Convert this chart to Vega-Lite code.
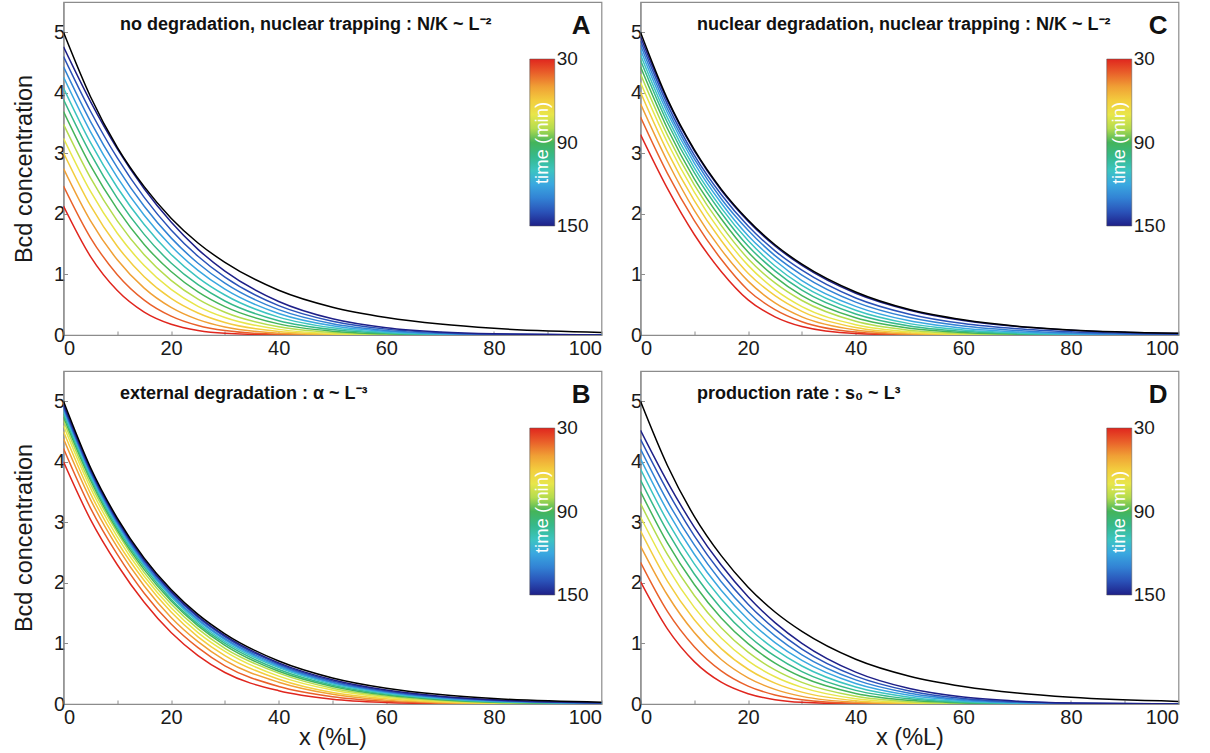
{
"$schema": "https://vega.github.io/schema/vega-lite/v6.json",
"padding": {"left": 11.5, "top": 1, "right": 5, "bottom": 0},
"background": "white",
"config": {
 "font": "Liberation Sans",
 "view": {"stroke": "#8c8c8c", "strokeWidth": 1.2},
 "axis": {"grid": false, "domainColor": "#8c8c8c", "domainWidth": 1.2, "tickColor": "#8c8c8c", "tickSize": -4, "labelFont": "Liberation Sans", "labelFontSize": 20, "labelColor": "#1a1a1a", "titleFont": "Liberation Sans", "titleFontSize": 23.5, "titleFontWeight": "normal", "titleColor": "#1a1a1a", "labelOverlap": false},
 "axisX": {"labelPadding": 7, "titlePadding": -2},
 "axisY": {"labelPadding": 3, "titlePadding": 17},
 "line": {"strokeWidth": 1.5, "interpolate": "monotone"},
 "legend": {"orient": "none", "legendX": 469, "legendY": 57, "direction": "vertical", "gradientLength": 167, "gradientThickness": 25, "titleOrient": "left", "titleColor": "white", "titleFontSize": 18.5, "titleFontWeight": "normal", "titleAnchor": "middle", "titlePadding": -21.75, "labelFontSize": 19, "labelOffset": 3, "labelColor": "#1a1a1a", "gradientStrokeColor": "#555555", "gradientStrokeWidth": 0.5, "padding": 0}
},
"datasets": {
"A": [
{"t":30,"x":0,"y":2.13},{"t":30,"x":5,"y":1.30},{"t":30,"x":10,"y":0.735},{"t":30,"x":15,"y":0.379},{"t":30,"x":20,"y":0.178},{"t":30,"x":25,"y":0.076},{"t":30,"x":30,"y":0.029},{"t":30,"x":40,"y":0.003},{"t":30,"x":50,"y":0},{"t":30,"x":60,"y":0},{"t":30,"x":70,"y":0},{"t":30,"x":80,"y":0},{"t":30,"x":100,"y":0},
{"t":40,"x":0,"y":2.46},{"t":40,"x":5,"y":1.61},{"t":40,"x":10,"y":0.997},{"t":40,"x":15,"y":0.577},{"t":40,"x":20,"y":0.312},{"t":40,"x":25,"y":0.157},{"t":40,"x":30,"y":0.073},{"t":40,"x":40,"y":0.012},{"t":40,"x":50,"y":0.0015},{"t":40,"x":60,"y":0},{"t":40,"x":70,"y":0},{"t":40,"x":80,"y":0},{"t":40,"x":100,"y":0},
{"t":50,"x":0,"y":2.75},{"t":50,"x":5,"y":1.89},{"t":50,"x":10,"y":1.242},{"t":50,"x":15,"y":0.774},{"t":50,"x":20,"y":0.456},{"t":50,"x":25,"y":0.254},{"t":50,"x":30,"y":0.133},{"t":50,"x":40,"y":0.030},{"t":50,"x":50,"y":0.005},{"t":50,"x":60,"y":0.0007},{"t":50,"x":70,"y":0},{"t":50,"x":80,"y":0},{"t":50,"x":100,"y":0},
{"t":60,"x":0,"y":3.01},{"t":60,"x":5,"y":2.14},{"t":60,"x":10,"y":1.466},{"t":60,"x":15,"y":0.962},{"t":60,"x":20,"y":0.604},{"t":60,"x":25,"y":0.363},{"t":60,"x":30,"y":0.206},{"t":60,"x":40,"y":0.057},{"t":60,"x":50,"y":0.013},{"t":60,"x":60,"y":0.002},{"t":60,"x":70,"y":0.0003},{"t":60,"x":80,"y":0},{"t":60,"x":100,"y":0},
{"t":70,"x":0,"y":3.25},{"t":70,"x":5,"y":2.375},{"t":70,"x":10,"y":1.68},{"t":70,"x":15,"y":1.147},{"t":70,"x":20,"y":0.752},{"t":70,"x":25,"y":0.474},{"t":70,"x":30,"y":0.289},{"t":70,"x":40,"y":0.093},{"t":70,"x":50,"y":0.025},{"t":70,"x":60,"y":0.0055},{"t":70,"x":70,"y":0.001},{"t":70,"x":80,"y":0.0002},{"t":70,"x":100,"y":0},
{"t":80,"x":0,"y":3.48},{"t":80,"x":5,"y":2.60},{"t":80,"x":10,"y":1.886},{"t":80,"x":15,"y":1.325},{"t":80,"x":20,"y":0.902},{"t":80,"x":25,"y":0.593},{"t":80,"x":30,"y":0.376},{"t":80,"x":40,"y":0.135},{"t":80,"x":50,"y":0.041},{"t":80,"x":60,"y":0.011},{"t":80,"x":70,"y":0.0024},{"t":80,"x":80,"y":0.0005},{"t":80,"x":100,"y":0},
{"t":90,"x":0,"y":3.69},{"t":90,"x":5,"y":2.80},{"t":90,"x":10,"y":2.078},{"t":90,"x":15,"y":1.496},{"t":90,"x":20,"y":1.048},{"t":90,"x":25,"y":0.711},{"t":90,"x":30,"y":0.468},{"t":90,"x":40,"y":0.184},{"t":90,"x":50,"y":0.063},{"t":90,"x":60,"y":0.019},{"t":90,"x":70,"y":0.0046},{"t":90,"x":80,"y":0.0011},{"t":90,"x":100,"y":0},
{"t":100,"x":0,"y":3.89},{"t":100,"x":5,"y":3.00},{"t":100,"x":10,"y":2.26},{"t":100,"x":15,"y":1.662},{"t":100,"x":20,"y":1.19},{"t":100,"x":25,"y":0.831},{"t":100,"x":30,"y":0.562},{"t":100,"x":40,"y":0.237},{"t":100,"x":50,"y":0.089},{"t":100,"x":60,"y":0.029},{"t":100,"x":70,"y":0.0082},{"t":100,"x":80,"y":0.0021},{"t":100,"x":100,"y":0.0001},
{"t":110,"x":0,"y":4.08},{"t":110,"x":5,"y":3.18},{"t":110,"x":10,"y":2.436},{"t":110,"x":15,"y":1.824},{"t":110,"x":20,"y":1.331},{"t":110,"x":25,"y":0.949},{"t":110,"x":30,"y":0.661},{"t":110,"x":40,"y":0.295},{"t":110,"x":50,"y":0.118},{"t":110,"x":60,"y":0.042},{"t":110,"x":70,"y":0.013},{"t":110,"x":80,"y":0.0036},{"t":110,"x":100,"y":0.0002},
{"t":120,"x":0,"y":4.26},{"t":120,"x":5,"y":3.36},{"t":120,"x":10,"y":2.604},{"t":120,"x":15,"y":1.978},{"t":120,"x":20,"y":1.47},{"t":120,"x":25,"y":1.067},{"t":120,"x":30,"y":0.757},{"t":120,"x":40,"y":0.356},{"t":120,"x":50,"y":0.151},{"t":120,"x":60,"y":0.058},{"t":120,"x":70,"y":0.02},{"t":120,"x":80,"y":0.0064},{"t":120,"x":100,"y":0.0004},
{"t":130,"x":0,"y":4.43},{"t":130,"x":5,"y":3.53},{"t":130,"x":10,"y":2.765},{"t":130,"x":15,"y":2.126},{"t":130,"x":20,"y":1.604},{"t":130,"x":25,"y":1.185},{"t":130,"x":30,"y":0.856},{"t":130,"x":40,"y":0.419},{"t":130,"x":50,"y":0.187},{"t":130,"x":60,"y":0.076},{"t":130,"x":70,"y":0.028},{"t":130,"x":80,"y":0.0092},{"t":130,"x":100,"y":0.0008},
{"t":140,"x":0,"y":4.60},{"t":140,"x":5,"y":3.70},{"t":140,"x":10,"y":2.924},{"t":140,"x":15,"y":2.273},{"t":140,"x":20,"y":1.736},{"t":140,"x":25,"y":1.301},{"t":140,"x":30,"y":0.956},{"t":140,"x":40,"y":0.485},{"t":140,"x":50,"y":0.227},{"t":140,"x":60,"y":0.097},{"t":140,"x":70,"y":0.038},{"t":140,"x":80,"y":0.0135},{"t":140,"x":100,"y":0.0012},
{"t":150,"x":0,"y":4.76},{"t":150,"x":5,"y":3.86},{"t":150,"x":10,"y":3.076},{"t":150,"x":15,"y":2.416},{"t":150,"x":20,"y":1.865},{"t":150,"x":25,"y":1.415},{"t":150,"x":30,"y":1.055},{"t":150,"x":40,"y":0.554},{"t":150,"x":50,"y":0.268},{"t":150,"x":60,"y":0.12},{"t":150,"x":70,"y":0.049},{"t":150,"x":80,"y":0.0187},{"t":150,"x":100,"y":0.002},
{"t":0,"x":0,"y":5.0},{"t":0,"x":5,"y":3.94},{"t":0,"x":10,"y":3.10},{"t":0,"x":15,"y":2.45},{"t":0,"x":20,"y":1.93},{"t":0,"x":25,"y":1.52},{"t":0,"x":30,"y":1.20},{"t":0,"x":40,"y":0.74},{"t":0,"x":50,"y":0.46},{"t":0,"x":60,"y":0.29},{"t":0,"x":70,"y":0.18},{"t":0,"x":80,"y":0.11},{"t":0,"x":100,"y":0.043}
],
"B": [
{"t":30,"x":0,"y":4.0},{"t":30,"x":5,"y":3.05},{"t":30,"x":10,"y":2.30},{"t":30,"x":15,"y":1.68},{"t":30,"x":20,"y":1.18},{"t":30,"x":25,"y":0.80},{"t":30,"x":30,"y":0.52},{"t":30,"x":40,"y":0.22},{"t":30,"x":50,"y":0.08},{"t":30,"x":60,"y":0.025},{"t":30,"x":70,"y":0.006},{"t":30,"x":80,"y":0.001},{"t":30,"x":100,"y":0},
{"t":40,"x":0,"y":4.22},{"t":40,"x":5,"y":3.24},{"t":40,"x":10,"y":2.47},{"t":40,"x":15,"y":1.83},{"t":40,"x":20,"y":1.32},{"t":40,"x":25,"y":0.93},{"t":40,"x":30,"y":0.63},{"t":40,"x":40,"y":0.29},{"t":40,"x":50,"y":0.12},{"t":40,"x":60,"y":0.044},{"t":40,"x":70,"y":0.013},{"t":40,"x":80,"y":0.003},{"t":40,"x":100,"y":0.0003},
{"t":50,"x":0,"y":4.38},{"t":50,"x":5,"y":3.38},{"t":50,"x":10,"y":2.59},{"t":50,"x":15,"y":1.95},{"t":50,"x":20,"y":1.43},{"t":50,"x":25,"y":1.03},{"t":50,"x":30,"y":0.72},{"t":50,"x":40,"y":0.36},{"t":50,"x":50,"y":0.16},{"t":50,"x":60,"y":0.064},{"t":50,"x":70,"y":0.022},{"t":50,"x":80,"y":0.006},{"t":50,"x":100,"y":0.001},
{"t":60,"x":0,"y":4.5},{"t":60,"x":5,"y":3.48},{"t":60,"x":10,"y":2.68},{"t":60,"x":15,"y":2.04},{"t":60,"x":20,"y":1.52},{"t":60,"x":25,"y":1.11},{"t":60,"x":30,"y":0.80},{"t":60,"x":40,"y":0.41},{"t":60,"x":50,"y":0.19},{"t":60,"x":60,"y":0.085},{"t":60,"x":70,"y":0.033},{"t":60,"x":80,"y":0.01},{"t":60,"x":100,"y":0.002},
{"t":70,"x":0,"y":4.6},{"t":70,"x":5,"y":3.57},{"t":70,"x":10,"y":2.76},{"t":70,"x":15,"y":2.11},{"t":70,"x":20,"y":1.59},{"t":70,"x":25,"y":1.18},{"t":70,"x":30,"y":0.87},{"t":70,"x":40,"y":0.46},{"t":70,"x":50,"y":0.23},{"t":70,"x":60,"y":0.107},{"t":70,"x":70,"y":0.045},{"t":70,"x":80,"y":0.016},{"t":70,"x":100,"y":0.003},
{"t":80,"x":0,"y":4.68},{"t":80,"x":5,"y":3.64},{"t":80,"x":10,"y":2.83},{"t":80,"x":15,"y":2.17},{"t":80,"x":20,"y":1.65},{"t":80,"x":25,"y":1.24},{"t":80,"x":30,"y":0.92},{"t":80,"x":40,"y":0.51},{"t":80,"x":50,"y":0.26},{"t":80,"x":60,"y":0.128},{"t":80,"x":70,"y":0.058},{"t":80,"x":80,"y":0.023},{"t":80,"x":100,"y":0.005},
{"t":90,"x":0,"y":4.74},{"t":90,"x":5,"y":3.70},{"t":90,"x":10,"y":2.87},{"t":90,"x":15,"y":2.22},{"t":90,"x":20,"y":1.70},{"t":90,"x":25,"y":1.29},{"t":90,"x":30,"y":0.97},{"t":90,"x":40,"y":0.54},{"t":90,"x":50,"y":0.29},{"t":90,"x":60,"y":0.147},{"t":90,"x":70,"y":0.07},{"t":90,"x":80,"y":0.03},{"t":90,"x":100,"y":0.007},
{"t":100,"x":0,"y":4.79},{"t":100,"x":5,"y":3.74},{"t":100,"x":10,"y":2.91},{"t":100,"x":15,"y":2.26},{"t":100,"x":20,"y":1.73},{"t":100,"x":25,"y":1.32},{"t":100,"x":30,"y":1.00},{"t":100,"x":40,"y":0.57},{"t":100,"x":50,"y":0.31},{"t":100,"x":60,"y":0.163},{"t":100,"x":70,"y":0.081},{"t":100,"x":80,"y":0.036},{"t":100,"x":100,"y":0.009},
{"t":110,"x":0,"y":4.83},{"t":110,"x":5,"y":3.77},{"t":110,"x":10,"y":2.94},{"t":110,"x":15,"y":2.29},{"t":110,"x":20,"y":1.77},{"t":110,"x":25,"y":1.35},{"t":110,"x":30,"y":1.03},{"t":110,"x":40,"y":0.60},{"t":110,"x":50,"y":0.33},{"t":110,"x":60,"y":0.178},{"t":110,"x":70,"y":0.091},{"t":110,"x":80,"y":0.043},{"t":110,"x":100,"y":0.011},
{"t":120,"x":0,"y":4.86},{"t":120,"x":5,"y":3.80},{"t":120,"x":10,"y":2.97},{"t":120,"x":15,"y":2.31},{"t":120,"x":20,"y":1.79},{"t":120,"x":25,"y":1.38},{"t":120,"x":30,"y":1.06},{"t":120,"x":40,"y":0.62},{"t":120,"x":50,"y":0.35},{"t":120,"x":60,"y":0.19},{"t":120,"x":70,"y":0.1},{"t":120,"x":80,"y":0.049},{"t":120,"x":100,"y":0.013},
{"t":130,"x":0,"y":4.89},{"t":130,"x":5,"y":3.83},{"t":130,"x":10,"y":2.99},{"t":130,"x":15,"y":2.33},{"t":130,"x":20,"y":1.81},{"t":130,"x":25,"y":1.40},{"t":130,"x":30,"y":1.08},{"t":130,"x":40,"y":0.64},{"t":130,"x":50,"y":0.36},{"t":130,"x":60,"y":0.203},{"t":130,"x":70,"y":0.109},{"t":130,"x":80,"y":0.055},{"t":130,"x":100,"y":0.015},
{"t":140,"x":0,"y":4.92},{"t":140,"x":5,"y":3.85},{"t":140,"x":10,"y":3.02},{"t":140,"x":15,"y":2.36},{"t":140,"x":20,"y":1.84},{"t":140,"x":25,"y":1.43},{"t":140,"x":30,"y":1.11},{"t":140,"x":40,"y":0.66},{"t":140,"x":50,"y":0.38},{"t":140,"x":60,"y":0.216},{"t":140,"x":70,"y":0.119},{"t":140,"x":80,"y":0.062},{"t":140,"x":100,"y":0.017},
{"t":150,"x":0,"y":4.95},{"t":150,"x":5,"y":3.88},{"t":150,"x":10,"y":3.04},{"t":150,"x":15,"y":2.38},{"t":150,"x":20,"y":1.86},{"t":150,"x":25,"y":1.45},{"t":150,"x":30,"y":1.13},{"t":150,"x":40,"y":0.68},{"t":150,"x":50,"y":0.40},{"t":150,"x":60,"y":0.23},{"t":150,"x":70,"y":0.13},{"t":150,"x":80,"y":0.07},{"t":150,"x":100,"y":0.02},
{"t":0,"x":0,"y":5.0},{"t":0,"x":5,"y":3.91},{"t":0,"x":10,"y":3.07},{"t":0,"x":15,"y":2.41},{"t":0,"x":20,"y":1.89},{"t":0,"x":25,"y":1.48},{"t":0,"x":30,"y":1.16},{"t":0,"x":40,"y":0.71},{"t":0,"x":50,"y":0.43},{"t":0,"x":60,"y":0.26},{"t":0,"x":70,"y":0.155},{"t":0,"x":80,"y":0.09},{"t":0,"x":100,"y":0.03}
],
"C": [
{"t":30,"x":0,"y":3.31},{"t":30,"x":5,"y":2.42},{"t":30,"x":10,"y":1.66},{"t":30,"x":15,"y":1.05},{"t":30,"x":20,"y":0.58},{"t":30,"x":25,"y":0.30},{"t":30,"x":30,"y":0.14},{"t":30,"x":40,"y":0.025},{"t":30,"x":50,"y":0.003},{"t":30,"x":60,"y":0.0003},{"t":30,"x":70,"y":0},{"t":30,"x":80,"y":0},{"t":30,"x":100,"y":0},
{"t":40,"x":0,"y":3.60},{"t":40,"x":5,"y":2.67},{"t":40,"x":10,"y":1.89},{"t":40,"x":15,"y":1.25},{"t":40,"x":20,"y":0.74},{"t":40,"x":25,"y":0.42},{"t":40,"x":30,"y":0.22},{"t":40,"x":40,"y":0.05},{"t":40,"x":50,"y":0.0085},{"t":40,"x":60,"y":0.0012},{"t":40,"x":70,"y":0.0001},{"t":40,"x":80,"y":0},{"t":40,"x":100,"y":0},
{"t":50,"x":0,"y":3.82},{"t":50,"x":5,"y":2.87},{"t":50,"x":10,"y":2.06},{"t":50,"x":15,"y":1.41},{"t":50,"x":20,"y":0.89},{"t":50,"x":25,"y":0.53},{"t":50,"x":30,"y":0.30},{"t":50,"x":40,"y":0.083},{"t":50,"x":50,"y":0.018},{"t":50,"x":60,"y":0.0033},{"t":50,"x":70,"y":0.0005},{"t":50,"x":80,"y":0.0001},{"t":50,"x":100,"y":0},
{"t":60,"x":0,"y":4.01},{"t":60,"x":5,"y":3.03},{"t":60,"x":10,"y":2.22},{"t":60,"x":15,"y":1.56},{"t":60,"x":20,"y":1.02},{"t":60,"x":25,"y":0.65},{"t":60,"x":30,"y":0.39},{"t":60,"x":40,"y":0.124},{"t":60,"x":50,"y":0.032},{"t":60,"x":60,"y":0.0075},{"t":60,"x":70,"y":0.0014},{"t":60,"x":80,"y":0.0003},{"t":60,"x":100,"y":0},
{"t":70,"x":0,"y":4.17},{"t":70,"x":5,"y":3.18},{"t":70,"x":10,"y":2.36},{"t":70,"x":15,"y":1.69},{"t":70,"x":20,"y":1.15},{"t":70,"x":25,"y":0.75},{"t":70,"x":30,"y":0.47},{"t":70,"x":40,"y":0.171},{"t":70,"x":50,"y":0.052},{"t":70,"x":60,"y":0.0145},{"t":70,"x":70,"y":0.0034},{"t":70,"x":80,"y":0.0008},{"t":70,"x":100,"y":0},
{"t":80,"x":0,"y":4.31},{"t":80,"x":5,"y":3.30},{"t":80,"x":10,"y":2.48},{"t":80,"x":15,"y":1.81},{"t":80,"x":20,"y":1.26},{"t":80,"x":25,"y":0.86},{"t":80,"x":30,"y":0.57},{"t":80,"x":40,"y":0.226},{"t":80,"x":50,"y":0.078},{"t":80,"x":60,"y":0.025},{"t":80,"x":70,"y":0.0071},{"t":80,"x":80,"y":0.0018},{"t":80,"x":100,"y":0.0001},
{"t":90,"x":0,"y":4.43},{"t":90,"x":5,"y":3.41},{"t":90,"x":10,"y":2.58},{"t":90,"x":15,"y":1.92},{"t":90,"x":20,"y":1.37},{"t":90,"x":25,"y":0.96},{"t":90,"x":30,"y":0.65},{"t":90,"x":40,"y":0.284},{"t":90,"x":50,"y":0.11},{"t":90,"x":60,"y":0.04},{"t":90,"x":70,"y":0.013},{"t":90,"x":80,"y":0.004},{"t":90,"x":100,"y":0.0003},
{"t":100,"x":0,"y":4.54},{"t":100,"x":5,"y":3.51},{"t":100,"x":10,"y":2.68},{"t":100,"x":15,"y":2.02},{"t":100,"x":20,"y":1.47},{"t":100,"x":25,"y":1.06},{"t":100,"x":30,"y":0.74},{"t":100,"x":40,"y":0.347},{"t":100,"x":50,"y":0.148},{"t":100,"x":60,"y":0.06},{"t":100,"x":70,"y":0.022},{"t":100,"x":80,"y":0.0075},{"t":100,"x":100,"y":0.0006},
{"t":110,"x":0,"y":4.63},{"t":110,"x":5,"y":3.59},{"t":110,"x":10,"y":2.76},{"t":110,"x":15,"y":2.10},{"t":110,"x":20,"y":1.56},{"t":110,"x":25,"y":1.14},{"t":110,"x":30,"y":0.82},{"t":110,"x":40,"y":0.409},{"t":110,"x":50,"y":0.188},{"t":110,"x":60,"y":0.084},{"t":110,"x":70,"y":0.035},{"t":110,"x":80,"y":0.013},{"t":110,"x":100,"y":0.0012},
{"t":120,"x":0,"y":4.71},{"t":120,"x":5,"y":3.67},{"t":120,"x":10,"y":2.84},{"t":120,"x":15,"y":2.18},{"t":120,"x":20,"y":1.64},{"t":120,"x":25,"y":1.23},{"t":120,"x":30,"y":0.90},{"t":120,"x":40,"y":0.473},{"t":120,"x":50,"y":0.234},{"t":120,"x":60,"y":0.112},{"t":120,"x":70,"y":0.051},{"t":120,"x":80,"y":0.021},{"t":120,"x":100,"y":0.0025},
{"t":130,"x":0,"y":4.79},{"t":130,"x":5,"y":3.74},{"t":130,"x":10,"y":2.91},{"t":130,"x":15,"y":2.25},{"t":130,"x":20,"y":1.73},{"t":130,"x":25,"y":1.31},{"t":130,"x":30,"y":0.99},{"t":130,"x":40,"y":0.543},{"t":130,"x":50,"y":0.288},{"t":130,"x":60,"y":0.148},{"t":130,"x":70,"y":0.074},{"t":130,"x":80,"y":0.033},{"t":130,"x":100,"y":0.005},
{"t":140,"x":0,"y":4.86},{"t":140,"x":5,"y":3.81},{"t":140,"x":10,"y":2.97},{"t":140,"x":15,"y":2.32},{"t":140,"x":20,"y":1.80},{"t":140,"x":25,"y":1.39},{"t":140,"x":30,"y":1.07},{"t":140,"x":40,"y":0.612},{"t":140,"x":50,"y":0.344},{"t":140,"x":60,"y":0.189},{"t":140,"x":70,"y":0.102},{"t":140,"x":80,"y":0.052},{"t":140,"x":100,"y":0.011},
{"t":150,"x":0,"y":4.93},{"t":150,"x":5,"y":3.87},{"t":150,"x":10,"y":3.04},{"t":150,"x":15,"y":2.39},{"t":150,"x":20,"y":1.88},{"t":150,"x":25,"y":1.47},{"t":150,"x":30,"y":1.15},{"t":150,"x":40,"y":0.69},{"t":150,"x":50,"y":0.41},{"t":150,"x":60,"y":0.24},{"t":150,"x":70,"y":0.14},{"t":150,"x":80,"y":0.08},{"t":150,"x":100,"y":0.025},
{"t":0,"x":0,"y":5.0},{"t":0,"x":5,"y":3.90},{"t":0,"x":10,"y":3.06},{"t":0,"x":15,"y":2.41},{"t":0,"x":20,"y":1.90},{"t":0,"x":25,"y":1.49},{"t":0,"x":30,"y":1.17},{"t":0,"x":40,"y":0.71},{"t":0,"x":50,"y":0.42},{"t":0,"x":60,"y":0.25},{"t":0,"x":70,"y":0.145},{"t":0,"x":80,"y":0.083},{"t":0,"x":100,"y":0.027}
],
"D": [
{"t":30,"x":0,"y":2.02},{"t":30,"x":5,"y":1.24},{"t":30,"x":10,"y":0.70},{"t":30,"x":15,"y":0.36},{"t":30,"x":20,"y":0.17},{"t":30,"x":25,"y":0.072},{"t":30,"x":30,"y":0.028},{"t":30,"x":40,"y":0.003},{"t":30,"x":50,"y":0},{"t":30,"x":60,"y":0},{"t":30,"x":70,"y":0},{"t":30,"x":80,"y":0},{"t":30,"x":100,"y":0},
{"t":40,"x":0,"y":2.34},{"t":40,"x":5,"y":1.53},{"t":40,"x":10,"y":0.947},{"t":40,"x":15,"y":0.548},{"t":40,"x":20,"y":0.296},{"t":40,"x":25,"y":0.149},{"t":40,"x":30,"y":0.069},{"t":40,"x":40,"y":0.011},{"t":40,"x":50,"y":0.0014},{"t":40,"x":60,"y":0},{"t":40,"x":70,"y":0},{"t":40,"x":80,"y":0},{"t":40,"x":100,"y":0},
{"t":50,"x":0,"y":2.61},{"t":50,"x":5,"y":1.80},{"t":50,"x":10,"y":1.18},{"t":50,"x":15,"y":0.735},{"t":50,"x":20,"y":0.433},{"t":50,"x":25,"y":0.241},{"t":50,"x":30,"y":0.126},{"t":50,"x":40,"y":0.029},{"t":50,"x":50,"y":0.005},{"t":50,"x":60,"y":0.0007},{"t":50,"x":70,"y":0},{"t":50,"x":80,"y":0},{"t":50,"x":100,"y":0},
{"t":60,"x":0,"y":2.86},{"t":60,"x":5,"y":2.03},{"t":60,"x":10,"y":1.393},{"t":60,"x":15,"y":0.914},{"t":60,"x":20,"y":0.574},{"t":60,"x":25,"y":0.345},{"t":60,"x":30,"y":0.196},{"t":60,"x":40,"y":0.054},{"t":60,"x":50,"y":0.012},{"t":60,"x":60,"y":0.002},{"t":60,"x":70,"y":0.0003},{"t":60,"x":80,"y":0},{"t":60,"x":100,"y":0},
{"t":70,"x":0,"y":3.09},{"t":70,"x":5,"y":2.256},{"t":70,"x":10,"y":1.596},{"t":70,"x":15,"y":1.09},{"t":70,"x":20,"y":0.714},{"t":70,"x":25,"y":0.45},{"t":70,"x":30,"y":0.275},{"t":70,"x":40,"y":0.088},{"t":70,"x":50,"y":0.024},{"t":70,"x":60,"y":0.0052},{"t":70,"x":70,"y":0.001},{"t":70,"x":80,"y":0.0002},{"t":70,"x":100,"y":0},
{"t":80,"x":0,"y":3.31},{"t":80,"x":5,"y":2.47},{"t":80,"x":10,"y":1.792},{"t":80,"x":15,"y":1.259},{"t":80,"x":20,"y":0.857},{"t":80,"x":25,"y":0.563},{"t":80,"x":30,"y":0.357},{"t":80,"x":40,"y":0.128},{"t":80,"x":50,"y":0.039},{"t":80,"x":60,"y":0.0105},{"t":80,"x":70,"y":0.0023},{"t":80,"x":80,"y":0.0005},{"t":80,"x":100,"y":0},
{"t":90,"x":0,"y":3.51},{"t":90,"x":5,"y":2.66},{"t":90,"x":10,"y":1.974},{"t":90,"x":15,"y":1.421},{"t":90,"x":20,"y":0.996},{"t":90,"x":25,"y":0.675},{"t":90,"x":30,"y":0.445},{"t":90,"x":40,"y":0.175},{"t":90,"x":50,"y":0.06},{"t":90,"x":60,"y":0.018},{"t":90,"x":70,"y":0.0044},{"t":90,"x":80,"y":0.001},{"t":90,"x":100,"y":0},
{"t":100,"x":0,"y":3.70},{"t":100,"x":5,"y":2.85},{"t":100,"x":10,"y":2.147},{"t":100,"x":15,"y":1.579},{"t":100,"x":20,"y":1.131},{"t":100,"x":25,"y":0.789},{"t":100,"x":30,"y":0.534},{"t":100,"x":40,"y":0.225},{"t":100,"x":50,"y":0.085},{"t":100,"x":60,"y":0.028},{"t":100,"x":70,"y":0.0078},{"t":100,"x":80,"y":0.002},{"t":100,"x":100,"y":0.0001},
{"t":110,"x":0,"y":3.88},{"t":110,"x":5,"y":3.02},{"t":110,"x":10,"y":2.314},{"t":110,"x":15,"y":1.733},{"t":110,"x":20,"y":1.264},{"t":110,"x":25,"y":0.902},{"t":110,"x":30,"y":0.628},{"t":110,"x":40,"y":0.28},{"t":110,"x":50,"y":0.112},{"t":110,"x":60,"y":0.04},{"t":110,"x":70,"y":0.0124},{"t":110,"x":80,"y":0.0034},{"t":110,"x":100,"y":0.0002},
{"t":120,"x":0,"y":4.05},{"t":120,"x":5,"y":3.19},{"t":120,"x":10,"y":2.474},{"t":120,"x":15,"y":1.879},{"t":120,"x":20,"y":1.397},{"t":120,"x":25,"y":1.014},{"t":120,"x":30,"y":0.719},{"t":120,"x":40,"y":0.338},{"t":120,"x":50,"y":0.143},{"t":120,"x":60,"y":0.055},{"t":120,"x":70,"y":0.019},{"t":120,"x":80,"y":0.0061},{"t":120,"x":100,"y":0.0004},
{"t":130,"x":0,"y":4.21},{"t":130,"x":5,"y":3.35},{"t":130,"x":10,"y":2.627},{"t":130,"x":15,"y":2.02},{"t":130,"x":20,"y":1.524},{"t":130,"x":25,"y":1.126},{"t":130,"x":30,"y":0.813},{"t":130,"x":40,"y":0.398},{"t":130,"x":50,"y":0.178},{"t":130,"x":60,"y":0.072},{"t":130,"x":70,"y":0.027},{"t":130,"x":80,"y":0.0087},{"t":130,"x":100,"y":0.0008},
{"t":140,"x":0,"y":4.37},{"t":140,"x":5,"y":3.52},{"t":140,"x":10,"y":2.778},{"t":140,"x":15,"y":2.159},{"t":140,"x":20,"y":1.649},{"t":140,"x":25,"y":1.236},{"t":140,"x":30,"y":0.908},{"t":140,"x":40,"y":0.461},{"t":140,"x":50,"y":0.216},{"t":140,"x":60,"y":0.092},{"t":140,"x":70,"y":0.036},{"t":140,"x":80,"y":0.0128},{"t":140,"x":100,"y":0.0011},
{"t":150,"x":0,"y":4.52},{"t":150,"x":5,"y":3.67},{"t":150,"x":10,"y":2.922},{"t":150,"x":15,"y":2.295},{"t":150,"x":20,"y":1.772},{"t":150,"x":25,"y":1.344},{"t":150,"x":30,"y":1.002},{"t":150,"x":40,"y":0.526},{"t":150,"x":50,"y":0.255},{"t":150,"x":60,"y":0.114},{"t":150,"x":70,"y":0.047},{"t":150,"x":80,"y":0.0178},{"t":150,"x":100,"y":0.0019},
{"t":0,"x":0,"y":5.0},{"t":0,"x":5,"y":3.94},{"t":0,"x":10,"y":3.10},{"t":0,"x":15,"y":2.45},{"t":0,"x":20,"y":1.93},{"t":0,"x":25,"y":1.52},{"t":0,"x":30,"y":1.20},{"t":0,"x":40,"y":0.74},{"t":0,"x":50,"y":0.46},{"t":0,"x":60,"y":0.29},{"t":0,"x":70,"y":0.18},{"t":0,"x":80,"y":0.11},{"t":0,"x":100,"y":0.043}
]
},
"resolve": {"scale": {"color": "independent"}, "legend": {"color": "independent"}},
"columns": 2,
"spacing": {"row": 36, "column": 39},
"bounds": "flush",
"concat": [
 {"width": 538, "height": 333,
  "layer": [
   {"data": {"name": "A"}, "transform": [{"filter": "datum.t > 0"}], "mark": {"type": "line", "clip": true},
    "encoding": {
     "x": {"field": "x", "type": "quantitative", "scale": {"domain": [0, 100], "nice": false}, "axis": {"values": [0,5,10,15,20,25,30,35,40,45,50,55,60,65,70,75,80,85,90,95,100], "labelExpr": "datum.value % 20 === 0 ? format(datum.value, 'd') : ''", "title": null}},
     "y": {"field": "y", "type": "quantitative", "scale": {"domain": [0, 5.5], "nice": false}, "axis": {"values": [0,0.25,0.5,0.75,1,1.25,1.5,1.75,2,2.25,2.5,2.75,3,3.25,3.5,3.75,4,4.25,4.5,4.75,5,5.25], "labelExpr": "datum.value % 1 === 0 ? format(datum.value, 'd') : ''", "title": "Bcd concentration"}},
     "color": {"field": "t", "type": "quantitative", "scale": {"domain": [150.01,140,130,120,110,100,90,80,70,60,50,40,29.99], "range": ["#1e2088","#2a52b8","#3282d4","#3aa8e0","#3cc4c0","#36b98a","#44b45a","#b4dc4e","#e8e64a","#f3cd3e","#f0a035","#e9602a","#e0261e"]}, "legend": {"title": "time (min)", "values": [30, 90, 150]}},
     "detail": {"field": "t", "type": "quantitative"}}},
   {"data": {"name": "A"}, "transform": [{"filter": "datum.t === 0"}], "mark": {"type": "line", "color": "#000000", "clip": true},
    "encoding": {"x": {"field": "x", "type": "quantitative"}, "y": {"field": "y", "type": "quantitative"}}},
   {"data": {"values": [{}]}, "mark": {"type": "text", "text": "no degradation, nuclear trapping : N/K ~ L⁻²", "align": "left", "baseline": "alphabetic", "font": "Liberation Sans", "fontWeight": "bold", "fontSize": 18, "color": "#111111"}, "encoding": {"x": {"datum": 10.5}, "y": {"datum": 5.04}}},
   {"data": {"values": [{}]}, "mark": {"type": "text", "text": "A", "align": "center", "baseline": "alphabetic", "font": "Liberation Sans", "fontWeight": "bold", "fontSize": 26, "color": "#111111"}, "encoding": {"x": {"datum": 96.2}, "y": {"datum": 4.97}}}
  ]},
 {"width": 538, "height": 333,
  "layer": [
   {"data": {"name": "C"}, "transform": [{"filter": "datum.t > 0"}], "mark": {"type": "line", "clip": true},
    "encoding": {
     "x": {"field": "x", "type": "quantitative", "scale": {"domain": [0, 100], "nice": false}, "axis": {"values": [0,5,10,15,20,25,30,35,40,45,50,55,60,65,70,75,80,85,90,95,100], "labelExpr": "datum.value % 20 === 0 ? format(datum.value, 'd') : ''", "title": null}},
     "y": {"field": "y", "type": "quantitative", "scale": {"domain": [0, 5.5], "nice": false}, "axis": {"values": [0,0.25,0.5,0.75,1,1.25,1.5,1.75,2,2.25,2.5,2.75,3,3.25,3.5,3.75,4,4.25,4.5,4.75,5,5.25], "labelExpr": "datum.value % 1 === 0 ? format(datum.value, 'd') : ''", "title": null}},
     "color": {"field": "t", "type": "quantitative", "scale": {"domain": [150.01,140,130,120,110,100,90,80,70,60,50,40,29.99], "range": ["#1e2088","#2a52b8","#3282d4","#3aa8e0","#3cc4c0","#36b98a","#44b45a","#b4dc4e","#e8e64a","#f3cd3e","#f0a035","#e9602a","#e0261e"]}, "legend": {"title": "time (min)", "values": [30, 90, 150]}},
     "detail": {"field": "t", "type": "quantitative"}}},
   {"data": {"name": "C"}, "transform": [{"filter": "datum.t === 0"}], "mark": {"type": "line", "color": "#000000", "clip": true},
    "encoding": {"x": {"field": "x", "type": "quantitative"}, "y": {"field": "y", "type": "quantitative"}}},
   {"data": {"values": [{}]}, "mark": {"type": "text", "text": "nuclear degradation, nuclear trapping : N/K ~ L⁻²", "align": "left", "baseline": "alphabetic", "font": "Liberation Sans", "fontWeight": "bold", "fontSize": 18, "color": "#111111"}, "encoding": {"x": {"datum": 10.5}, "y": {"datum": 5.04}}},
   {"data": {"values": [{}]}, "mark": {"type": "text", "text": "C", "align": "center", "baseline": "alphabetic", "font": "Liberation Sans", "fontWeight": "bold", "fontSize": 26, "color": "#111111"}, "encoding": {"x": {"datum": 96.2}, "y": {"datum": 4.97}}}
  ]},
 {"width": 538, "height": 333,
  "layer": [
   {"data": {"name": "B"}, "transform": [{"filter": "datum.t > 0"}], "mark": {"type": "line", "clip": true},
    "encoding": {
     "x": {"field": "x", "type": "quantitative", "scale": {"domain": [0, 100], "nice": false}, "axis": {"values": [0,5,10,15,20,25,30,35,40,45,50,55,60,65,70,75,80,85,90,95,100], "labelExpr": "datum.value % 20 === 0 ? format(datum.value, 'd') : ''", "title": "x (%L)"}},
     "y": {"field": "y", "type": "quantitative", "scale": {"domain": [0, 5.5], "nice": false}, "axis": {"values": [0,0.25,0.5,0.75,1,1.25,1.5,1.75,2,2.25,2.5,2.75,3,3.25,3.5,3.75,4,4.25,4.5,4.75,5,5.25], "labelExpr": "datum.value % 1 === 0 ? format(datum.value, 'd') : ''", "title": "Bcd concentration"}},
     "color": {"field": "t", "type": "quantitative", "scale": {"domain": [150.01,140,130,120,110,100,90,80,70,60,50,40,29.99], "range": ["#1e2088","#2a52b8","#3282d4","#3aa8e0","#3cc4c0","#36b98a","#44b45a","#b4dc4e","#e8e64a","#f3cd3e","#f0a035","#e9602a","#e0261e"]}, "legend": {"title": "time (min)", "values": [30, 90, 150]}},
     "detail": {"field": "t", "type": "quantitative"}}},
   {"data": {"name": "B"}, "transform": [{"filter": "datum.t === 0"}], "mark": {"type": "line", "color": "#000000", "clip": true},
    "encoding": {"x": {"field": "x", "type": "quantitative"}, "y": {"field": "y", "type": "quantitative"}}},
   {"data": {"values": [{}]}, "mark": {"type": "text", "text": "external degradation : α ~ L⁻³", "align": "left", "baseline": "alphabetic", "font": "Liberation Sans", "fontWeight": "bold", "fontSize": 18, "color": "#111111"}, "encoding": {"x": {"datum": 10.5}, "y": {"datum": 5.04}}},
   {"data": {"values": [{}]}, "mark": {"type": "text", "text": "B", "align": "center", "baseline": "alphabetic", "font": "Liberation Sans", "fontWeight": "bold", "fontSize": 26, "color": "#111111"}, "encoding": {"x": {"datum": 96.2}, "y": {"datum": 4.97}}}
  ]},
 {"width": 538, "height": 333,
  "layer": [
   {"data": {"name": "D"}, "transform": [{"filter": "datum.t > 0"}], "mark": {"type": "line", "clip": true},
    "encoding": {
     "x": {"field": "x", "type": "quantitative", "scale": {"domain": [0, 100], "nice": false}, "axis": {"values": [0,5,10,15,20,25,30,35,40,45,50,55,60,65,70,75,80,85,90,95,100], "labelExpr": "datum.value % 20 === 0 ? format(datum.value, 'd') : ''", "title": "x (%L)"}},
     "y": {"field": "y", "type": "quantitative", "scale": {"domain": [0, 5.5], "nice": false}, "axis": {"values": [0,0.25,0.5,0.75,1,1.25,1.5,1.75,2,2.25,2.5,2.75,3,3.25,3.5,3.75,4,4.25,4.5,4.75,5,5.25], "labelExpr": "datum.value % 1 === 0 ? format(datum.value, 'd') : ''", "title": null}},
     "color": {"field": "t", "type": "quantitative", "scale": {"domain": [150.01,140,130,120,110,100,90,80,70,60,50,40,29.99], "range": ["#1e2088","#2a52b8","#3282d4","#3aa8e0","#3cc4c0","#36b98a","#44b45a","#b4dc4e","#e8e64a","#f3cd3e","#f0a035","#e9602a","#e0261e"]}, "legend": {"title": "time (min)", "values": [30, 90, 150]}},
     "detail": {"field": "t", "type": "quantitative"}}},
   {"data": {"name": "D"}, "transform": [{"filter": "datum.t === 0"}], "mark": {"type": "line", "color": "#000000", "clip": true},
    "encoding": {"x": {"field": "x", "type": "quantitative"}, "y": {"field": "y", "type": "quantitative"}}},
   {"data": {"values": [{}]}, "mark": {"type": "text", "text": "production rate : s₀ ~ L³", "align": "left", "baseline": "alphabetic", "font": "Liberation Sans", "fontWeight": "bold", "fontSize": 18, "color": "#111111"}, "encoding": {"x": {"datum": 10.5}, "y": {"datum": 5.04}}},
   {"data": {"values": [{}]}, "mark": {"type": "text", "text": "D", "align": "center", "baseline": "alphabetic", "font": "Liberation Sans", "fontWeight": "bold", "fontSize": 26, "color": "#111111"}, "encoding": {"x": {"datum": 96.2}, "y": {"datum": 4.97}}}
  ]}
]
}
